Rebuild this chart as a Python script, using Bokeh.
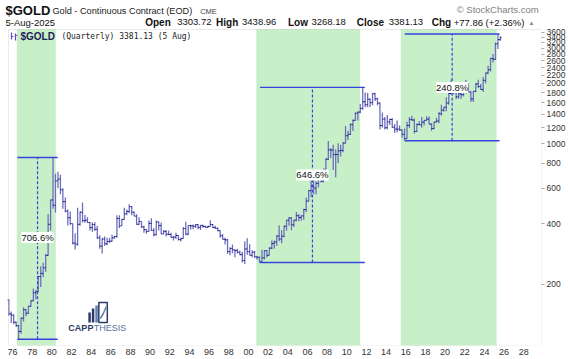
import math
from bokeh.plotting import figure
from bokeh.models import Range1d, FixedTicker, PrintfTickFormatter, BoxAnnotation, Label, ColumnDataSource
from bokeh.embed import file_html
from bokeh.resources import INLINE

# ---------------- data (quarterly OHLC, $GOLD continuous contract) ----------------
start_year, start_quarter = 1975, 3
bar_open = [166, 142,
            140, 129, 124, 116,   135, 149, 143, 155,   165, 181, 184, 218,   226, 241, 278, 397,
            525, 494, 653, 667,   590, 515, 462, 428,   400, 320, 316, 397,   456, 414, 416, 405,
            382, 396, 375, 340,   309, 335, 317, 326,   327, 340, 345, 424,   390, 420, 448, 460,
            486, 456, 436, 397,   410, 385, 373, 366,   401, 370, 352, 408,   391, 355, 366, 354,
            353, 342, 343, 349,   333, 337, 378, 355,   391, 390, 388, 395,   383, 391, 387, 384,
            387, 396, 382, 379,   369, 348, 334, 332,   290, 301, 296, 294,   288, 280, 262, 299,
            290, 278, 288, 273,   272, 258, 270, 293,   278, 302, 318, 324,   347, 335, 346, 388,
            416, 427, 395, 416,   438, 429, 437, 470,   518, 584, 616, 602,   635, 669, 651, 746,
            838, 933, 930, 884,   884, 922, 927, 1008,  1097, 1115, 1244, 1309, 1421, 1439, 1500, 1620,
            1566, 1668, 1604, 1776, 1675, 1595, 1234, 1327, 1202, 1284, 1322, 1210, 1184, 1183, 1172, 1115,
            1061, 1234, 1320, 1313, 1152, 1249, 1242, 1283, 1309, 1327, 1253, 1192, 1282, 1298, 1413, 1472,
            1523, 1597, 1781, 1896, 1895, 1715, 1771, 1757, 1829, 1955, 1812, 1672, 1826, 1987, 1929, 1866,
            2072, 2254, 2339, 2660, 2641, 3150, 3303.72]
bar_high = [168, 146,
            141, 130, 125, 136,   153, 150, 156, 166,   190, 186, 220, 245,   255, 282, 445, 526,
            855, 710, 725, 700,   600, 540, 470, 460,   400, 358, 480, 460,   510, 442, 430, 408,
            406, 406, 390, 350,   340, 345, 340, 340,   352, 348, 440, 440,   422, 480, 470, 500,
            490, 460, 445, 430,   410, 390, 375, 415,   425, 380, 415, 410,   405, 372, 372, 370,
            360, 347, 360, 350,   340, 385, 409, 392,   395, 396, 398, 398,   395, 396, 390, 390,
            416, 398, 390, 383,   370, 355, 340, 335,   305, 315, 297, 300,   293, 290, 327, 338,
            316, 295, 292, 275,   274, 296, 295, 295,   305, 330, 330, 350,   392, 371, 391, 417,
            432, 430, 418, 457,   447, 440, 475, 540,   586, 732, 680, 650,   690, 700, 750, 848,
            1033, 950, 990, 940,  1007, 990, 1020, 1227, 1162, 1266, 1320, 1432, 1448, 1577, 1911.3, 1802,
            1791, 1680, 1790, 1798, 1698, 1605, 1434, 1362, 1392, 1332, 1346, 1255, 1308, 1232, 1178, 1192,
            1287, 1362, 1378, 1337, 1264, 1297, 1362, 1310, 1370, 1369, 1266, 1287, 1349, 1442, 1566, 1525,
            1704, 1796, 2089, 1966, 1963, 1919, 1834, 1877, 2079, 2004, 1829, 1835, 2010, 2085, 1988, 2152,
            2260, 2448, 2685, 2802, 3200, 3527, 3438.96]
bar_low = [139, 128,
           126, 122, 106, 113,   130, 138, 142, 154,   164, 168, 183, 193,   216, 230, 277, 370,
           474, 455, 600, 560,   475, 456, 392, 395,   315, 297, 310, 390,   405, 404, 404, 370,
           364, 368, 335, 300,   284, 310, 312, 320,   325, 336, 340, 380,   390, 420, 440, 450,
           440, 436, 395, 395,   380, 360, 356, 365,   368, 345, 350, 370,   355, 355, 345, 350,
           340, 330, 335, 330,   326, 337, 350, 350,   374, 375, 380, 375,   372, 382, 382, 380,
           387, 380, 378, 366,   340, 334, 315, 283,   278, 285, 272, 284,   278, 256, 252, 280,
           278, 272, 270, 264,   256, 258, 265, 271,   278, 298, 300, 310,   327, 319, 342, 370,
           390, 371, 385, 410,   411, 413, 418, 456,   516, 542, 560, 560,   605, 641, 642, 720,
           830, 850, 740, 681,   800, 865, 908, 1003,  1045, 1106, 1157, 1306, 1307, 1421, 1478, 1522,
           1523, 1527, 1556, 1636, 1555, 1180, 1207, 1180, 1182, 1240, 1204, 1131, 1142, 1162, 1072, 1035,
           1060, 1200, 1306, 1124, 1146, 1242, 1204, 1236, 1302, 1250, 1160, 1180, 1281, 1266, 1381, 1446,
           1451, 1567, 1761, 1765, 1673, 1677, 1678, 1722, 1780, 1805, 1615, 1618, 1805, 1900, 1858, 1810,
           1996, 2225, 2293, 2540, 2620, 2970, 3268.18]
bar_close = [142, 140,
             129, 124, 116, 135,   149, 143, 155, 165,   181, 184, 218, 226,   241, 278, 397, 525,
             494, 653, 667, 590,   515, 462, 428, 400,   320, 316, 397, 456,   414, 416, 405, 382,
             396, 375, 340, 309,   335, 317, 326, 327,   340, 345, 424, 390,   420, 448, 460, 486,
             456, 436, 397, 410,   385, 373, 366, 401,   370, 352, 408, 391,   355, 366, 354, 353,
             342, 343, 349, 333,   337, 378, 355, 391,   390, 388, 395, 383,   391, 387, 384, 387,
             396, 382, 379, 369,   348, 334, 332, 290,   301, 296, 294, 288,   280, 262, 299, 290,
             278, 288, 273, 272,   258, 270, 293, 278,   302, 318, 324, 347,   335, 346, 388, 416,
             427, 395, 416, 438,   429, 437, 470, 518,   584, 616, 602, 635,   669, 651, 746, 838,
             933, 930, 884, 884,   922, 927, 1008, 1097,  1115, 1244, 1309, 1421, 1439, 1500, 1620, 1566,
             1668, 1604, 1776, 1675, 1595, 1234, 1327, 1202, 1284, 1322, 1210, 1184, 1183, 1172, 1115, 1061,
             1234, 1320, 1313, 1152, 1249, 1242, 1283, 1309, 1327, 1253, 1192, 1282, 1298, 1413, 1472, 1523,
             1597, 1781, 1896, 1895, 1715, 1771, 1757, 1829, 1955, 1812, 1672, 1826, 1987, 1929, 1866, 2072,
             2254, 2339, 2660, 2641, 3150, 3308, 3381.13]

# highlighted bull-market zones (green) and measurement lines
zone_start = [1976.48, 2000.84, 2015.53]
zone_end = [1980.37, 2011.33, 2025.21]
line_start = [1976.5, 2001.18, 2015.9]
line_end = [1980.6, 2011.84, 2025.54]
label_frac = [0.56, 0.5, 0.5]

y_ticks = [200, 400, 600, 800, 1000, 1200, 1400, 1600, 1800, 2000, 2200, 2400, 2600, 2800, 3000, 3200, 3400, 3600]
x_tick_years = list(range(1976, 2030, 2))
x_tick_labels = ["76", "78", "80", "82", "84", "86", "88", "90", "92", "94", "96", "98", "00",
                 "02", "04", "06", "08", "10", "12", "14", "16", "18", "20", "22", "24", "26", "28"]

hdr_date = "5-Aug-2025"
hdr_chg, hdr_chg_pct = 77.86, 2.36

# ---------------- geometry ----------------
W, H = 568, 359
FL, FR, FT, FB = 8, 542, 29, 345          # visible chart box (px)
PX_PER_YEAR, X_REF_PX, X_REF_YEAR = 9.85, 12.0, 1976.0
PX_PER_DECADE, Y_REF_PX = 200.6, 143.3   # Y_REF_PX is where 1000 sits


def px_x(px):
    return X_REF_YEAR + (px - X_REF_PX) / PX_PER_YEAR


def px_y(py):
    return 10 ** (3 - (py - Y_REF_PX) / PX_PER_DECADE)


# the plotting frame covers the header area too, the chart box is drawn separately
p = figure(width=W, height=H, x_range=Range1d(px_x(0), px_x(FR)),
           y_range=Range1d(px_y(FB), px_y(0)), y_axis_type="log", y_axis_location="right",
           output_backend="svg", toolbar_location=None,
           min_border_left=0, min_border_right=W - FR, min_border_top=0, min_border_bottom=H - FB)
p.background_fill_color = "white"
p.border_fill_color = "white"
p.outline_line_color = None
p.xgrid.visible = False
p.ygrid.visible = False

# axes
p.yaxis.ticker = FixedTicker(ticks=y_ticks, minor_ticks=[])
p.yaxis.formatter = PrintfTickFormatter(format="%d")
p.yaxis.major_label_text_font = "Liberation Sans"
p.yaxis.major_label_text_font_size = "8.5px"
p.yaxis.major_label_text_color = "#333333"
p.yaxis.major_tick_out = 3
p.yaxis.major_tick_in = 0
p.yaxis.minor_tick_out = 0
p.yaxis.major_tick_line_color = "#aaaaaa"
p.yaxis.axis_line_color = None
p.yaxis.major_label_standoff = 2

p.xaxis.ticker = FixedTicker(ticks=x_tick_years, minor_ticks=[])
p.xaxis.major_label_overrides = {y: l for y, l in zip(x_tick_years, x_tick_labels)}
p.xaxis.major_label_text_font = "Liberation Sans"
p.xaxis.major_label_text_font_size = "9px"
p.xaxis.major_label_text_color = "#333333"
p.xaxis.major_tick_out = 0
p.xaxis.major_tick_in = 0
p.xaxis.minor_tick_out = 0
p.xaxis.axis_line_color = None
p.xaxis.major_label_standoff = 3

# green zones
for zs, ze in zip(zone_start, zone_end):
    p.add_layout(BoxAnnotation(left=zs, right=ze, top=px_y(FT), bottom=px_y(FB), fill_color="#c8f0c8",
                               fill_alpha=1.0, line_color="#a6dea6", line_width=1, level="underlay"))

# chart box outline
p.add_layout(BoxAnnotation(left=px_x(FL), right=px_x(FR), top=px_y(FT), bottom=px_y(FB), fill_alpha=0,
                           line_color="#b8b8b8", line_width=1))

# OHLC bars
n = len(bar_close)
xs = [start_year + (start_quarter - 1) * 0.25 + 0.25 * i + 0.125 for i in range(n)]
tw = 0.12
src = ColumnDataSource(dict(x=xs, xl=[x - tw for x in xs], xr=[x + tw for x in xs],
                            o=bar_open, h=bar_high, l=bar_low, c=bar_close))
p.segment(x0="x", y0="l", x1="x", y1="h", source=src, line_color="#6f6fbd", line_width=1.3)
p.segment(x0="xl", y0="o", x1="x", y1="o", source=src, line_color="#18188a", line_width=1)
p.segment(x0="x", y0="c", x1="xr", y1="c", source=src, line_color="#18188a", line_width=1)

# measurement lines and % labels
for ls, le, zs, ze, fr in zip(line_start, line_end, zone_start, zone_end, label_frac):
    a, b = min(ls, zs), max(le, ze)
    lo = min(l for x, l in zip(xs, bar_low) if a <= x <= b)
    hi = max(h for x, h in zip(xs, bar_high) if a <= x <= b)
    mid = (ls + le) / 2
    p.segment(x0=[ls, ls], y0=[lo, hi], x1=[le, le], y1=[lo, hi], line_color="#3344dd", line_width=1.4)
    p.segment(x0=[mid], y0=[lo], x1=[mid], y1=[hi], line_color="#3344dd", line_width=1.2, line_dash="3 2")
    ly = 10 ** (math.log10(lo) + fr * (math.log10(hi) - math.log10(lo)))
    p.add_layout(Label(x=mid, y=ly, text=f"{(hi / lo - 1) * 100:.1f}%", text_align="center",
                       text_baseline="middle", text_font="Liberation Sans", text_font_size="9.5px",
                       text_color="#111111", background_fill_color="white", background_fill_alpha=1.0))

# CAPPTHESIS watermark logo
logo_px = [(88, 312, 90.5, 322, "#2b3a67"), (91.5, 308, 94, 322, "#2b3a67"), (95, 305, 97.5, 322, "#5f7fb0")]
for l_, t_, r_, b_, col in logo_px:
    p.quad(left=[px_x(l_)], right=[px_x(r_)], top=[px_y(t_)], bottom=[px_y(b_)], fill_color=col, line_color=None)
p.quad(left=[px_x(98.5)], right=[px_x(107)], top=[px_y(302)], bottom=[px_y(322)], fill_color=None,
       line_color="#2b3a67", line_width=1.5)
p.line(x=[px_x(100), px_x(103), px_x(106)], y=[px_y(318), px_y(313), px_y(306)], line_color="#5f7fb0", line_width=1.5)

# tiny chart-type icon in the legend row
p.segment(x0=[px_x(11), px_x(15)], y0=[px_y(32), px_y(33)], x1=[px_x(11), px_x(15)], y1=[px_y(39), px_y(40)],
          line_color="#5050c8", line_width=1.2)
p.segment(x0=[px_x(11), px_x(15)], y0=[px_y(36), px_y(35)], x1=[px_x(13), px_x(17)], y1=[px_y(36), px_y(35)],
          line_color="#a040b0", line_width=1)


def txt(x, y, s, size, color="#111111", font="Liberation Sans", style="normal", align="left"):
    p.add_layout(Label(x=px_x(x), y=px_y(y), text=s, text_font=font, text_font_size=size,
                       text_color=color, text_font_style=style, text_align=align, text_baseline="middle"))


txt(68, 327.5, "CAPP", "9px", color="#2b3a67", style="bold")
txt(93.5, 327.5, "THESIS", "9px", color="#5a7299")

# legend row inside the chart
txt(20, 35.5, "$GOLD", "10px", color="#202058", style="bold")
txt(61, 35.5, f"(Quarterly) {bar_close[-1]:.2f} (5 Aug)", "8px", color="#222222", font="DejaVu Sans Mono")

# header
txt(5, 9.5, "$GOLD", "13px", style="bold")
txt(52, 10.5, "Gold - Continuous Contract (EOD)", "9.2px", color="#222222")
txt(200, 11, "CME", "7.5px", color="#444444")
txt(457, 9, "\u00a9 StockCharts.com", "9.5px", color="#808080")
txt(5, 21.5, hdr_date, "9.5px")
txt(145, 21.5, "Open", "10px", style="bold")
txt(177, 21.5, f"{bar_open[-1]:.2f}", "9.5px")
txt(216, 21.5, "High", "10px", style="bold")
txt(242, 21.5, f"{bar_high[-1]:.2f}", "9.5px")
txt(288, 21.5, "Low", "10px", style="bold")
txt(311.5, 21.5, f"{bar_low[-1]:.2f}", "9.5px")
txt(357, 21.5, "Close", "10px", style="bold")
txt(389, 21.5, f"{bar_close[-1]:.2f}", "9.5px")
txt(432, 21.5, "Chg", "10px", style="bold")
txt(454, 21.5, f"+{hdr_chg:.2f} (+{hdr_chg_pct:.2f}%)", "9.5px")
txt(529, 22, "\u25b2", "6px", color="#888888")

open("out.html", "w").write(file_html(p, INLINE))
